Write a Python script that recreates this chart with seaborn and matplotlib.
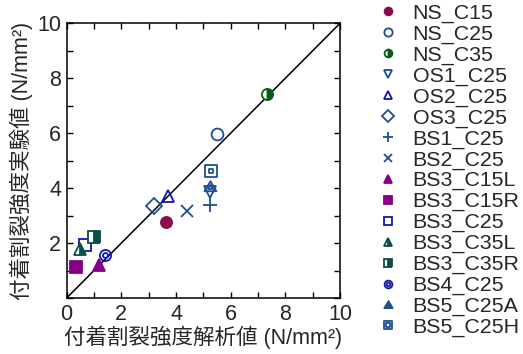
import numpy as np
import matplotlib
matplotlib.use("Agg")
import matplotlib.pyplot as plt
import seaborn as sns
from matplotlib.path import Path
from matplotlib.transforms import Affine2D
from matplotlib.ticker import MultipleLocator, FuncFormatter

# ---- data ----
labels = ["NS_C15", "NS_C25", "NS_C35", "OS1_C25", "OS2_C25", "OS3_C25",
          "BS1_C25", "BS2_C25", "BS3_C15L", "BS3_C15R", "BS3_C25",
          "BS3_C35L", "BS3_C35R", "BS4_C25", "BS5_C25A", "BS5_C25H"]
analysis = [3.63, 5.49, 7.32, 5.24, 3.70, 3.21,
            5.24, 4.39, 1.20, 0.34, 0.67,
            0.49, 1.01, 1.40, 5.24, 5.27]
experiment = [2.76, 5.97, 7.42, 3.85, 3.72, 3.35,
              3.38, 3.18, 1.20, 1.12, 1.93,
              1.80, 2.22, 1.57, 4.05, 4.62]
diag = [0, 10]
xlabel = "付着割裂強度解析値 (N/mm²)"
ylabel = "付着割裂強度実験値 (N/mm²)"

# ---- styles ----
maroon = "#8A0C4A"
blue1 = "#1E4F91"
blue2 = "#1414B4"
green = "#0B5D13"
purple = "#850085"
teal = "#0D4D47"

def compound(outer, scale):
    inner = outer.transformed(Affine2D().scale(scale))
    return Path.make_compound_path(outer, inner)

tri = Path([(0, 1), (-0.95, -0.6), (0.95, -0.6), (0, 1)], closed=True)
sq = Path([(-1, -1), (1, -1), (1, 1), (-1, 1), (-1, -1)], closed=True)
dbl_circle = compound(Path.unit_circle(), 0.45)
dbl_tri = compound(tri, 0.4)
dbl_sq = compound(sq, 0.4)

styles = [
    dict(marker="o", color=maroon, mfc=maroon, ms=8),
    dict(marker="o", color=blue1, mfc="none", ms=8.5),
    dict(marker="o", color=green, mfc=green, ms=8, fillstyle="right"),
    dict(marker="v", color=blue1, mfc="none", ms=8.5),
    dict(marker="^", color=blue2, mfc="none", ms=8.5),
    dict(marker="D", color=blue1, mfc="none", ms=8.5),
    dict(marker="+", color=blue1, mfc="none", ms=9.5),
    dict(marker="x", color=blue1, mfc="none", ms=8.5),
    dict(marker="^", color=purple, mfc=purple, ms=9),
    dict(marker="s", color=purple, mfc=purple, ms=8),
    dict(marker="s", color=blue2, mfc="none", ms=8),
    dict(marker="^", color=teal, mfc=teal, ms=9, fillstyle="right"),
    dict(marker="s", color=teal, mfc=teal, ms=8, fillstyle="right"),
    dict(marker=dbl_circle, color=blue2, mfc="none", ms=8),
    dict(marker=dbl_tri, color=blue1, mfc="none", ms=9),
    dict(marker=dbl_sq, color=blue1, mfc="none", ms=8),
]

sns.set_style("ticks")
plt.rcParams["font.family"] = ["Liberation Sans", "Noto Sans CJK JP"]
plt.rcParams["xtick.direction"] = "in"
plt.rcParams["ytick.direction"] = "in"

fig = plt.figure(figsize=(5.23, 3.54), dpi=100)
ax = fig.add_axes([0.1275, 0.1582, 0.5226, 0.776])

sns.lineplot(x=diag, y=diag, ax=ax, color="black", lw=1.1)

for lab, xv, yv, st in zip(labels, analysis, experiment, styles):
    kw = dict(marker=st["marker"], linestyle="", markersize=st["ms"],
              markeredgecolor=st["color"], markerfacecolor=st["mfc"],
              markeredgewidth=1.3, color=st["color"])
    if "fillstyle" in st:
        kw["fillstyle"] = st["fillstyle"]
        kw["markerfacecoloralt"] = "white"
    sns.lineplot(x=[xv], y=[yv], ax=ax, label=lab, **kw)

ax.set_xlim(0, 10)
ax.set_ylim(0, 10)
ax.xaxis.set_major_locator(MultipleLocator(1))
ax.yaxis.set_major_locator(MultipleLocator(1))
ax.xaxis.set_major_formatter(FuncFormatter(lambda v, p: f"{int(round(v))}" if int(round(v)) % 2 == 0 else ""))
ax.yaxis.set_major_formatter(FuncFormatter(lambda v, p: f"{int(round(v))}" if int(round(v)) % 2 == 0 and v > 0 else ""))
ax.tick_params(axis="both", which="major", direction="in", length=4, width=1,
               labelsize=15.5, top=True, right=True, pad=4, color="black")
for sp in ax.spines.values():
    sp.set_visible(True)
    sp.set_linewidth(1.1)
    sp.set_color("black")

ax.set_xlabel(xlabel, fontsize=15.5, labelpad=1)
ax.set_ylabel(ylabel, fontsize=15.5, labelpad=3)

leg = ax.legend(loc="upper left", bbox_to_anchor=(0.722, 0.99),
                bbox_transform=fig.transFigure, frameon=False, fontsize=15.4,
                markerscale=0.7, handlelength=1.0, handletextpad=0.64,
                labelspacing=0.08, borderaxespad=0, borderpad=0)

fig.savefig("out.png", dpi=100)
